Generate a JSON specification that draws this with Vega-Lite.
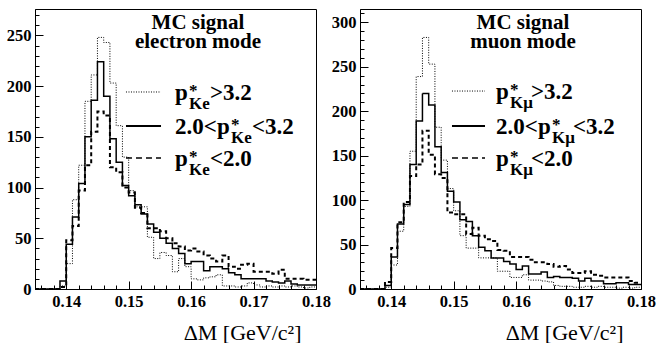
{
  "$schema": "https://vega.github.io/schema/vega-lite/v6.json",
  "padding": {"left": 5, "top": 4, "right": 5, "bottom": 0},
  "spacing": 44,
  "bounds": "flush",
  "config": {
    "view": {"stroke": "black", "strokeWidth": 1},
    "font": "Liberation Serif",
    "axis": {
      "domainColor": "black", "tickColor": "black", "grid": false, "ticks": true, "labelOverlap": false,
      "labelFont": "Liberation Serif", "labelFontWeight": "bold", "labelFontSize": 16.5, "labelColor": "black",
      "titleFont": "Liberation Serif", "titleFontWeight": "normal", "titleFontSize": 22, "titleColor": "black"
    },
    "text": {"font": "Liberation Serif", "fontWeight": "bold", "color": "black", "align": "left", "baseline": "alphabetic"}
  },
  "datasets": {
    "electron": [
      {"dm": 0.135, "hi": 0, "mid": 0, "lo": 0},
      {"dm": 0.136, "hi": 0, "mid": 0, "lo": 0},
      {"dm": 0.137, "hi": 0, "mid": 0, "lo": 0},
      {"dm": 0.138, "hi": 0, "mid": 0, "lo": 0},
      {"dm": 0.139, "hi": 3, "mid": 8, "lo": 2},
      {"dm": 0.140, "hi": 25, "mid": 44, "lo": 48},
      {"dm": 0.141, "hi": 88, "mid": 71, "lo": 62},
      {"dm": 0.142, "hi": 122, "mid": 104, "lo": 97},
      {"dm": 0.143, "hi": 185, "mid": 150, "lo": 122},
      {"dm": 0.144, "hi": 211, "mid": 186, "lo": 155},
      {"dm": 0.145, "hi": 248, "mid": 224, "lo": 175},
      {"dm": 0.146, "hi": 243, "mid": 190, "lo": 171},
      {"dm": 0.147, "hi": 203, "mid": 148, "lo": 120},
      {"dm": 0.148, "hi": 161, "mid": 125, "lo": 115},
      {"dm": 0.149, "hi": 130, "mid": 102, "lo": 100},
      {"dm": 0.150, "hi": 97, "mid": 92, "lo": 95},
      {"dm": 0.151, "hi": 81, "mid": 83, "lo": 80},
      {"dm": 0.152, "hi": 81, "mid": 74, "lo": 75},
      {"dm": 0.153, "hi": 51, "mid": 64, "lo": 60},
      {"dm": 0.154, "hi": 30, "mid": 56, "lo": 60},
      {"dm": 0.155, "hi": 36, "mid": 50, "lo": 57},
      {"dm": 0.156, "hi": 33, "mid": 45, "lo": 50},
      {"dm": 0.157, "hi": 17, "mid": 40, "lo": 45},
      {"dm": 0.158, "hi": 30, "mid": 35, "lo": 42},
      {"dm": 0.159, "hi": 22, "mid": 25, "lo": 38},
      {"dm": 0.160, "hi": 10, "mid": 27, "lo": 40},
      {"dm": 0.161, "hi": 9, "mid": 27, "lo": 37},
      {"dm": 0.162, "hi": 11, "mid": 18, "lo": 33},
      {"dm": 0.163, "hi": 12, "mid": 22, "lo": 30},
      {"dm": 0.164, "hi": 14, "mid": 22, "lo": 27},
      {"dm": 0.165, "hi": 3, "mid": 20, "lo": 33},
      {"dm": 0.166, "hi": 3, "mid": 16, "lo": 22},
      {"dm": 0.167, "hi": 2, "mid": 14, "lo": 20},
      {"dm": 0.168, "hi": 3, "mid": 10, "lo": 24},
      {"dm": 0.169, "hi": 6, "mid": 10, "lo": 25},
      {"dm": 0.170, "hi": 4, "mid": 10, "lo": 17},
      {"dm": 0.171, "hi": 2, "mid": 10, "lo": 17},
      {"dm": 0.172, "hi": 3, "mid": 8, "lo": 17},
      {"dm": 0.173, "hi": 2, "mid": 7, "lo": 15},
      {"dm": 0.174, "hi": 3, "mid": 6, "lo": 19},
      {"dm": 0.175, "hi": 2, "mid": 8, "lo": 10},
      {"dm": 0.176, "hi": 3, "mid": 5, "lo": 10},
      {"dm": 0.177, "hi": 2, "mid": 4, "lo": 10},
      {"dm": 0.178, "hi": 1, "mid": 4, "lo": 9},
      {"dm": 0.179, "hi": 2, "mid": 4, "lo": 9},
      {"dm": 0.180, "hi": 2, "mid": 4, "lo": 9}
    ],
    "muon": [
      {"dm": 0.135, "hi": 0, "mid": 0, "lo": 0},
      {"dm": 0.136, "hi": 0, "mid": 0, "lo": 0},
      {"dm": 0.137, "hi": 0, "mid": 0, "lo": 0},
      {"dm": 0.138, "hi": 0, "mid": 0, "lo": 0},
      {"dm": 0.139, "hi": 2, "mid": 4, "lo": 8},
      {"dm": 0.140, "hi": 27, "mid": 36, "lo": 46},
      {"dm": 0.141, "hi": 65, "mid": 73, "lo": 75},
      {"dm": 0.142, "hi": 93, "mid": 95, "lo": 98},
      {"dm": 0.143, "hi": 155, "mid": 140, "lo": 127},
      {"dm": 0.144, "hi": 239, "mid": 189, "lo": 140},
      {"dm": 0.145, "hi": 283, "mid": 220, "lo": 178},
      {"dm": 0.146, "hi": 253, "mid": 207, "lo": 151},
      {"dm": 0.147, "hi": 182, "mid": 160, "lo": 129},
      {"dm": 0.148, "hi": 145, "mid": 131, "lo": 125},
      {"dm": 0.149, "hi": 113, "mid": 110, "lo": 86},
      {"dm": 0.150, "hi": 88, "mid": 98, "lo": 84},
      {"dm": 0.151, "hi": 60, "mid": 78, "lo": 84},
      {"dm": 0.152, "hi": 46, "mid": 76, "lo": 62},
      {"dm": 0.153, "hi": 46, "mid": 60, "lo": 69},
      {"dm": 0.154, "hi": 35, "mid": 47, "lo": 60},
      {"dm": 0.155, "hi": 35, "mid": 43, "lo": 56},
      {"dm": 0.156, "hi": 35, "mid": 35, "lo": 54},
      {"dm": 0.157, "hi": 20, "mid": 35, "lo": 44},
      {"dm": 0.158, "hi": 20, "mid": 31, "lo": 43},
      {"dm": 0.159, "hi": 13, "mid": 28, "lo": 36},
      {"dm": 0.160, "hi": 13, "mid": 22, "lo": 36},
      {"dm": 0.161, "hi": 16, "mid": 26, "lo": 36},
      {"dm": 0.162, "hi": 10, "mid": 17, "lo": 33},
      {"dm": 0.163, "hi": 10, "mid": 17, "lo": 30},
      {"dm": 0.164, "hi": 9, "mid": 19, "lo": 30},
      {"dm": 0.165, "hi": 8, "mid": 13, "lo": 28},
      {"dm": 0.166, "hi": 4, "mid": 14, "lo": 25},
      {"dm": 0.167, "hi": 3, "mid": 13, "lo": 26},
      {"dm": 0.168, "hi": 3, "mid": 13, "lo": 22},
      {"dm": 0.169, "hi": 2, "mid": 12, "lo": 18},
      {"dm": 0.170, "hi": 2, "mid": 9, "lo": 18},
      {"dm": 0.171, "hi": 3, "mid": 12, "lo": 20},
      {"dm": 0.172, "hi": 2, "mid": 9, "lo": 16},
      {"dm": 0.173, "hi": 3, "mid": 9, "lo": 15},
      {"dm": 0.174, "hi": 2, "mid": 6, "lo": 13},
      {"dm": 0.175, "hi": 2, "mid": 6, "lo": 13},
      {"dm": 0.176, "hi": 1, "mid": 7, "lo": 13},
      {"dm": 0.177, "hi": 2, "mid": 7, "lo": 13},
      {"dm": 0.178, "hi": 1, "mid": 5, "lo": 9},
      {"dm": 0.179, "hi": 2, "mid": 5, "lo": 7},
      {"dm": 0.180, "hi": 2, "mid": 5, "lo": 7}
    ]
  },
  "hconcat": [
    {
      "width": 281,
      "height": 280,
      "resolve": {"axis": {"x": "independent", "y": "independent"}},
      "layer": [
        {
          "data": {"name": "electron"},
          "transform": [{"fold": ["hi", "mid", "lo"], "as": ["cut", "n"]}],
          "mark": {"type": "line", "interpolate": "step-after", "color": "black"},
          "encoding": {
            "x": {
              "field": "dm", "type": "quantitative",
              "scale": {"domain": [0.135, 0.18], "nice": false, "zero": false},
              "axis": {
                "values": [0.136, 0.138, 0.14, 0.142, 0.144, 0.146, 0.148, 0.15, 0.152, 0.154, 0.156, 0.158, 0.16, 0.162, 0.164, 0.166, 0.168, 0.17, 0.172, 0.174, 0.176, 0.178, 0.18],
                "labelExpr": "abs(datum.value*100-round(datum.value*100))<0.01 ? format(datum.value,'.2f') : ''",
                "tickSize": {"condition": {"test": "abs(datum.value*100-round(datum.value*100))<0.01", "value": -8}, "value": -4},
                "labelPadding": 12, "labelOverlap": false, "labelFlush": false, "labelBound": false,
                "title": "ΔM [GeV/c²]", "titleAnchor": "end", "titleAlign": "right", "titleX": 266, "titleY": 50, "titleBaseline": "alphabetic"
              }
            },
            "y": {
              "field": "n", "type": "quantitative",
              "scale": {"domain": [0, 276], "nice": false},
              "axis": {
                "values": [0, 10, 20, 30, 40, 50, 60, 70, 80, 90, 100, 110, 120, 130, 140, 150, 160, 170, 180, 190, 200, 210, 220, 230, 240, 250, 260, 270],
                "labelExpr": "datum.value % 50 == 0 ? datum.label : ''",
                "tickSize": {"condition": {"test": "datum.value % 50 == 0", "value": -8}, "value": -4},
                "labelPadding": 12, "labelOverlap": false, "title": null
              }
            },
            "detail": {"field": "cut"},
            "strokeDash": {"field": "cut", "type": "nominal", "scale": {"domain": ["hi", "mid", "lo"], "range": [[1, 1.5], [1, 0], [4, 3]]}, "legend": null},
            "strokeWidth": {"field": "cut", "type": "nominal", "scale": {"domain": ["hi", "mid", "lo"], "range": [1, 2, 1.3]}, "legend": null}
          }
        },
        {
          "data": {"values": [{}]},
          "layer": [
            {"mark": {"type": "text", "text": "MC signal", "fontSize": 21, "align": "center"}, "encoding": {"x": {"datum": 0.1611, "axis": null}, "y": {"datum": 256.3, "axis": null}}},
            {"mark": {"type": "text", "text": "electron mode", "fontSize": 21, "align": "center"}, "encoding": {"x": {"datum": 0.1611, "axis": null}, "y": {"datum": 237.6, "axis": null}}},
            {"mark": {"type": "rule", "color": "black", "strokeWidth": 1, "strokeDash": [1, 1.5]}, "encoding": {"x": {"datum": 0.14957, "axis": null}, "x2": {"datum": 0.15518}, "y": {"datum": 194.2, "axis": null}}},
            {"mark": {"type": "rule", "color": "black", "strokeWidth": 2}, "encoding": {"x": {"datum": 0.14957, "axis": null}, "x2": {"datum": 0.15518}, "y": {"datum": 160.7, "axis": null}}},
            {"mark": {"type": "rule", "color": "black", "strokeWidth": 1.5, "strokeDash": [6, 4]}, "encoding": {"x": {"datum": 0.14957, "axis": null}, "x2": {"datum": 0.15518}, "y": {"datum": 129.1, "axis": null}}},
            {"mark": {"type": "text", "text": "p", "fontSize": 23, "dy": 8}, "encoding": {"x": {"datum": 0.15742, "axis": null}, "y": {"datum": 194.2, "axis": null}}},
            {"mark": {"type": "text", "text": "*", "fontSize": 17, "dx": 14, "dy": 4}, "encoding": {"x": {"datum": 0.15742, "axis": null}, "y": {"datum": 194.2, "axis": null}}},
            {"mark": {"type": "text", "text": "Ke", "fontSize": 17, "dx": 14, "dy": 17}, "encoding": {"x": {"datum": 0.15742, "axis": null}, "y": {"datum": 194.2, "axis": null}}},
            {"mark": {"type": "text", "text": ">3.2", "fontSize": 23, "dx": 35, "dy": 8}, "encoding": {"x": {"datum": 0.15742, "axis": null}, "y": {"datum": 194.2, "axis": null}}},
            {"mark": {"type": "text", "text": "2.0<", "fontSize": 23, "dy": 8}, "encoding": {"x": {"datum": 0.15742, "axis": null}, "y": {"datum": 160.7, "axis": null}}},
            {"mark": {"type": "text", "text": "p", "fontSize": 23, "dx": 42, "dy": 8}, "encoding": {"x": {"datum": 0.15742, "axis": null}, "y": {"datum": 160.7, "axis": null}}},
            {"mark": {"type": "text", "text": "*", "fontSize": 17, "dx": 56, "dy": 4}, "encoding": {"x": {"datum": 0.15742, "axis": null}, "y": {"datum": 160.7, "axis": null}}},
            {"mark": {"type": "text", "text": "Ke", "fontSize": 17, "dx": 56, "dy": 17}, "encoding": {"x": {"datum": 0.15742, "axis": null}, "y": {"datum": 160.7, "axis": null}}},
            {"mark": {"type": "text", "text": "<3.2", "fontSize": 23, "dx": 77, "dy": 8}, "encoding": {"x": {"datum": 0.15742, "axis": null}, "y": {"datum": 160.7, "axis": null}}},
            {"mark": {"type": "text", "text": "p", "fontSize": 23, "dy": 8}, "encoding": {"x": {"datum": 0.15742, "axis": null}, "y": {"datum": 129.1, "axis": null}}},
            {"mark": {"type": "text", "text": "*", "fontSize": 17, "dx": 14, "dy": 4}, "encoding": {"x": {"datum": 0.15742, "axis": null}, "y": {"datum": 129.1, "axis": null}}},
            {"mark": {"type": "text", "text": "Ke", "fontSize": 17, "dx": 14, "dy": 17}, "encoding": {"x": {"datum": 0.15742, "axis": null}, "y": {"datum": 129.1, "axis": null}}},
            {"mark": {"type": "text", "text": "<2.0", "fontSize": 23, "dx": 35, "dy": 8}, "encoding": {"x": {"datum": 0.15742, "axis": null}, "y": {"datum": 129.1, "axis": null}}}
          ]
        }
      ]
    },
    {
      "width": 281,
      "height": 280,
      "resolve": {"axis": {"x": "independent", "y": "independent"}},
      "layer": [
        {
          "data": {"name": "muon"},
          "transform": [{"fold": ["hi", "mid", "lo"], "as": ["cut", "n"]}],
          "mark": {"type": "line", "interpolate": "step-after", "color": "black"},
          "encoding": {
            "x": {
              "field": "dm", "type": "quantitative",
              "scale": {"domain": [0.135, 0.18], "nice": false, "zero": false},
              "axis": {
                "values": [0.136, 0.138, 0.14, 0.142, 0.144, 0.146, 0.148, 0.15, 0.152, 0.154, 0.156, 0.158, 0.16, 0.162, 0.164, 0.166, 0.168, 0.17, 0.172, 0.174, 0.176, 0.178, 0.18],
                "labelExpr": "abs(datum.value*100-round(datum.value*100))<0.01 ? format(datum.value,'.2f') : ''",
                "tickSize": {"condition": {"test": "abs(datum.value*100-round(datum.value*100))<0.01", "value": -8}, "value": -4},
                "labelPadding": 12, "labelOverlap": false, "labelFlush": false, "labelBound": false,
                "title": "ΔM [GeV/c²]", "titleAnchor": "end", "titleAlign": "right", "titleX": 263, "titleY": 50, "titleBaseline": "alphabetic"
              }
            },
            "y": {
              "field": "n", "type": "quantitative",
              "scale": {"domain": [0, 315], "nice": false},
              "axis": {
                "values": [0, 10, 20, 30, 40, 50, 60, 70, 80, 90, 100, 110, 120, 130, 140, 150, 160, 170, 180, 190, 200, 210, 220, 230, 240, 250, 260, 270, 280, 290, 300, 310],
                "labelExpr": "datum.value % 50 == 0 ? datum.label : ''",
                "tickSize": {"condition": {"test": "datum.value % 50 == 0", "value": -8}, "value": -4},
                "labelPadding": 12, "labelOverlap": false, "title": null
              }
            },
            "detail": {"field": "cut"},
            "strokeDash": {"field": "cut", "type": "nominal", "scale": {"domain": ["hi", "mid", "lo"], "range": [[1, 1.5], [1, 0], [4, 3]]}, "legend": null},
            "strokeWidth": {"field": "cut", "type": "nominal", "scale": {"domain": ["hi", "mid", "lo"], "range": [1, 2, 1.3]}, "legend": null}
          }
        },
        {
          "data": {"values": [{}]},
          "layer": [
            {"mark": {"type": "text", "text": "MC signal", "fontSize": 21, "align": "center"}, "encoding": {"x": {"datum": 0.1611, "axis": null}, "y": {"datum": 292.5, "axis": null}}},
            {"mark": {"type": "text", "text": "muon mode", "fontSize": 21, "align": "center"}, "encoding": {"x": {"datum": 0.1611, "axis": null}, "y": {"datum": 271.1, "axis": null}}},
            {"mark": {"type": "rule", "color": "black", "strokeWidth": 1, "strokeDash": [1, 1.5]}, "encoding": {"x": {"datum": 0.14973, "axis": null}, "x2": {"datum": 0.15502}, "y": {"datum": 222.7, "axis": null}}},
            {"mark": {"type": "rule", "color": "black", "strokeWidth": 2}, "encoding": {"x": {"datum": 0.14973, "axis": null}, "x2": {"datum": 0.15502}, "y": {"datum": 183.4, "axis": null}}},
            {"mark": {"type": "rule", "color": "black", "strokeWidth": 1.5, "strokeDash": [6, 4]}, "encoding": {"x": {"datum": 0.14973, "axis": null}, "x2": {"datum": 0.15502}, "y": {"datum": 147.4, "axis": null}}},
            {"mark": {"type": "text", "text": "p", "fontSize": 23, "dy": 8}, "encoding": {"x": {"datum": 0.15678, "axis": null}, "y": {"datum": 222.7, "axis": null}}},
            {"mark": {"type": "text", "text": "*", "fontSize": 17, "dx": 14, "dy": 4}, "encoding": {"x": {"datum": 0.15678, "axis": null}, "y": {"datum": 222.7, "axis": null}}},
            {"mark": {"type": "text", "text": "Kμ", "fontSize": 17, "dx": 14, "dy": 17}, "encoding": {"x": {"datum": 0.15678, "axis": null}, "y": {"datum": 222.7, "axis": null}}},
            {"mark": {"type": "text", "text": ">3.2", "fontSize": 23, "dx": 35, "dy": 8}, "encoding": {"x": {"datum": 0.15678, "axis": null}, "y": {"datum": 222.7, "axis": null}}},
            {"mark": {"type": "text", "text": "2.0<", "fontSize": 23, "dy": 8}, "encoding": {"x": {"datum": 0.15678, "axis": null}, "y": {"datum": 183.4, "axis": null}}},
            {"mark": {"type": "text", "text": "p", "fontSize": 23, "dx": 42, "dy": 8}, "encoding": {"x": {"datum": 0.15678, "axis": null}, "y": {"datum": 183.4, "axis": null}}},
            {"mark": {"type": "text", "text": "*", "fontSize": 17, "dx": 56, "dy": 4}, "encoding": {"x": {"datum": 0.15678, "axis": null}, "y": {"datum": 183.4, "axis": null}}},
            {"mark": {"type": "text", "text": "Kμ", "fontSize": 17, "dx": 56, "dy": 17}, "encoding": {"x": {"datum": 0.15678, "axis": null}, "y": {"datum": 183.4, "axis": null}}},
            {"mark": {"type": "text", "text": "<3.2", "fontSize": 23, "dx": 77, "dy": 8}, "encoding": {"x": {"datum": 0.15678, "axis": null}, "y": {"datum": 183.4, "axis": null}}},
            {"mark": {"type": "text", "text": "p", "fontSize": 23, "dy": 8}, "encoding": {"x": {"datum": 0.15678, "axis": null}, "y": {"datum": 147.4, "axis": null}}},
            {"mark": {"type": "text", "text": "*", "fontSize": 17, "dx": 14, "dy": 4}, "encoding": {"x": {"datum": 0.15678, "axis": null}, "y": {"datum": 147.4, "axis": null}}},
            {"mark": {"type": "text", "text": "Kμ", "fontSize": 17, "dx": 14, "dy": 17}, "encoding": {"x": {"datum": 0.15678, "axis": null}, "y": {"datum": 147.4, "axis": null}}},
            {"mark": {"type": "text", "text": "<2.0", "fontSize": 23, "dx": 35, "dy": 8}, "encoding": {"x": {"datum": 0.15678, "axis": null}, "y": {"datum": 147.4, "axis": null}}}
          ]
        }
      ]
    }
  ]
}
